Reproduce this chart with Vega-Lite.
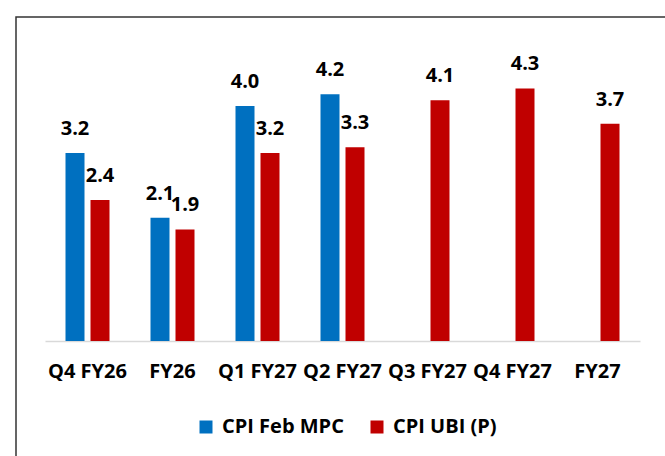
{
  "$schema": "https://vega.github.io/schema/vega-lite/v6.json",
  "autosize": {"type": "none"},
  "padding": {"left": 16, "top": 17, "right": -3, "bottom": -3},
  "width": 652,
  "height": 442,
  "background": "white",
  "config": {
    "view": {"stroke": "#333333", "strokeWidth": 1.5},
    "font": "Open Sans"
  },
  "data": {
    "values": [
      {"period": "Q4 FY26", "series": "CPI Feb MPC", "value": 3.2},
      {"period": "Q4 FY26", "series": "CPI UBI (P)", "value": 2.4},
      {"period": "FY26", "series": "CPI Feb MPC", "value": 2.1},
      {"period": "FY26", "series": "CPI UBI (P)", "value": 1.9},
      {"period": "Q1 FY27", "series": "CPI Feb MPC", "value": 4.0},
      {"period": "Q1 FY27", "series": "CPI UBI (P)", "value": 3.2},
      {"period": "Q2 FY27", "series": "CPI Feb MPC", "value": 4.2},
      {"period": "Q2 FY27", "series": "CPI UBI (P)", "value": 3.3},
      {"period": "Q3 FY27", "series": "CPI UBI (P)", "value": 4.1},
      {"period": "Q4 FY27", "series": "CPI UBI (P)", "value": 4.3},
      {"period": "FY27", "series": "CPI UBI (P)", "value": 3.7}
    ]
  },
  "encoding": {
    "x": {
      "field": "period",
      "type": "nominal",
      "sort": ["Q4 FY26", "FY26", "Q1 FY27", "Q2 FY27", "Q3 FY27", "Q4 FY27", "FY27"],
      "scale": {"range": [29, 624], "paddingInner": 0, "paddingOuter": 0},
      "axis": {
        "title": null,
        "orient": "bottom",
        "offset": -118,
        "ticks": false,
        "tickSize": 0,
        "domainColor": "#D9D9D9",
        "domainWidth": 1.5,
        "labelAngle": 0,
        "labelFont": "Open Sans",
        "labelFontWeight": "bold",
        "labelFontSize": 20,
        "labelColor": "#000000",
        "labelPadding": 36,
        "labelBaseline": "alphabetic",
        "labelOverlap": false,
        "labelLimit": 200
      }
    },
    "xOffset": {
      "field": "series",
      "type": "nominal",
      "scale": {"domain": ["CPI Feb MPC", "CPI UBI (P)"], "paddingInner": 0.24, "paddingOuter": 0.82}
    },
    "y": {
      "field": "value",
      "type": "quantitative",
      "scale": {"domain": [0, 5], "range": [324, 30.25], "zero": true, "nice": false},
      "axis": null
    }
  },
  "layer": [
    {
      "mark": {"type": "bar"},
      "encoding": {
        "color": {
          "field": "series",
          "type": "nominal",
          "scale": {"domain": ["CPI Feb MPC", "CPI UBI (P)"], "range": ["#0070C0", "#C00000"]},
          "legend": {
            "title": null,
            "orient": "none",
            "legendX": 180,
            "legendY": 400,
            "direction": "horizontal",
            "symbolType": "square",
            "symbolSize": 169,
            "symbolStrokeWidth": 0,
            "labelFont": "Open Sans",
            "labelFontWeight": "bold",
            "labelFontSize": 20,
            "labelColor": "#000000",
            "labelOffset": 6,
            "columnPadding": 23,
            "labelLimit": 300
          }
        }
      }
    },
    {
      "mark": {"type": "text", "dy": -18, "baseline": "alphabetic", "align": "center", "font": "Open Sans", "fontWeight": "bold", "fontSize": 20, "color": "#000000"},
      "encoding": {
        "text": {"field": "value", "type": "quantitative", "format": ".1f"}
      }
    }
  ]
}
